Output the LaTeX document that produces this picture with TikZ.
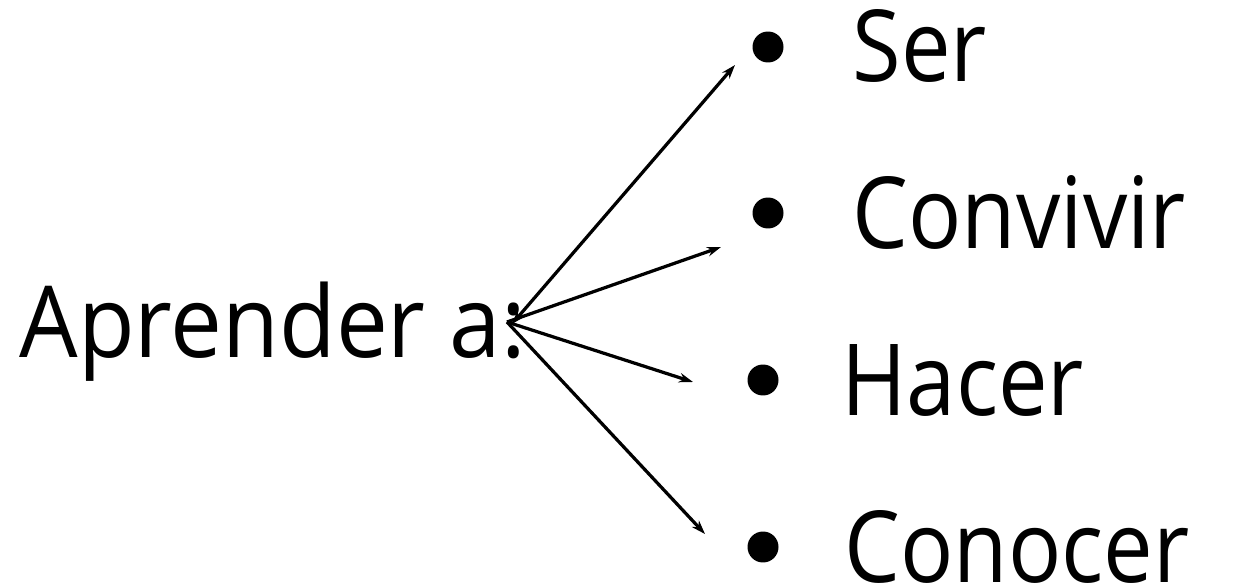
\documentclass[tikz,border=0pt]{standalone}
\usepackage{fontspec}
\setmainfont{Open Sans}[FakeStretch=0.89]
\newfontfamily\headfont{Open Sans}[FakeStretch=0.93]
\usetikzlibrary{arrows.meta}
\begin{document}
\begin{tikzpicture}[x=0.02cm,y=-0.02cm,line width=0.065cm,
  >={Stealth[length=0.28cm,width=0.19cm]},
  word node/.style={inner sep=0,anchor=base west,font=\fontsize{56.6pt}{60pt}\selectfont},
  dot node/.style={circle,fill,inner sep=0,minimum size=0.62cm}]

  \useasboundingbox (0,0) rectangle (1245,588);

  \node[word node,font=\fontsize{56.6pt}{60pt}\headfont] (learn) at (18,357) {Aprender a:};
  \coordinate (hub) at (507,322);

  \node[dot node] (d1) at (768,47) {};
  \node[word node] (ser) at (851,82) {Ser};
  \node[dot node] (d2) at (768,213) {};
  \node[word node] (conv) at (851,248) {Convivir};
  \node[dot node] (d3) at (763,380) {};
  \node[word node] (hac) at (840,415) {Hacer};
  \node[dot node] (d4) at (763,547) {};
  \node[word node] (cono) at (843,582) {Conocer};

  \coordinate (t1) at (735,65);
  \coordinate (t2) at (721,247);
  \coordinate (t3) at (693,382);
  \coordinate (t4) at (705,534);

  \draw[<->] (512,324) -- (t1);
  \path[->]
  (hub) edge (t2)
  (hub) edge (t3)
  (hub) edge (t4);

\end{tikzpicture}
\end{document}
